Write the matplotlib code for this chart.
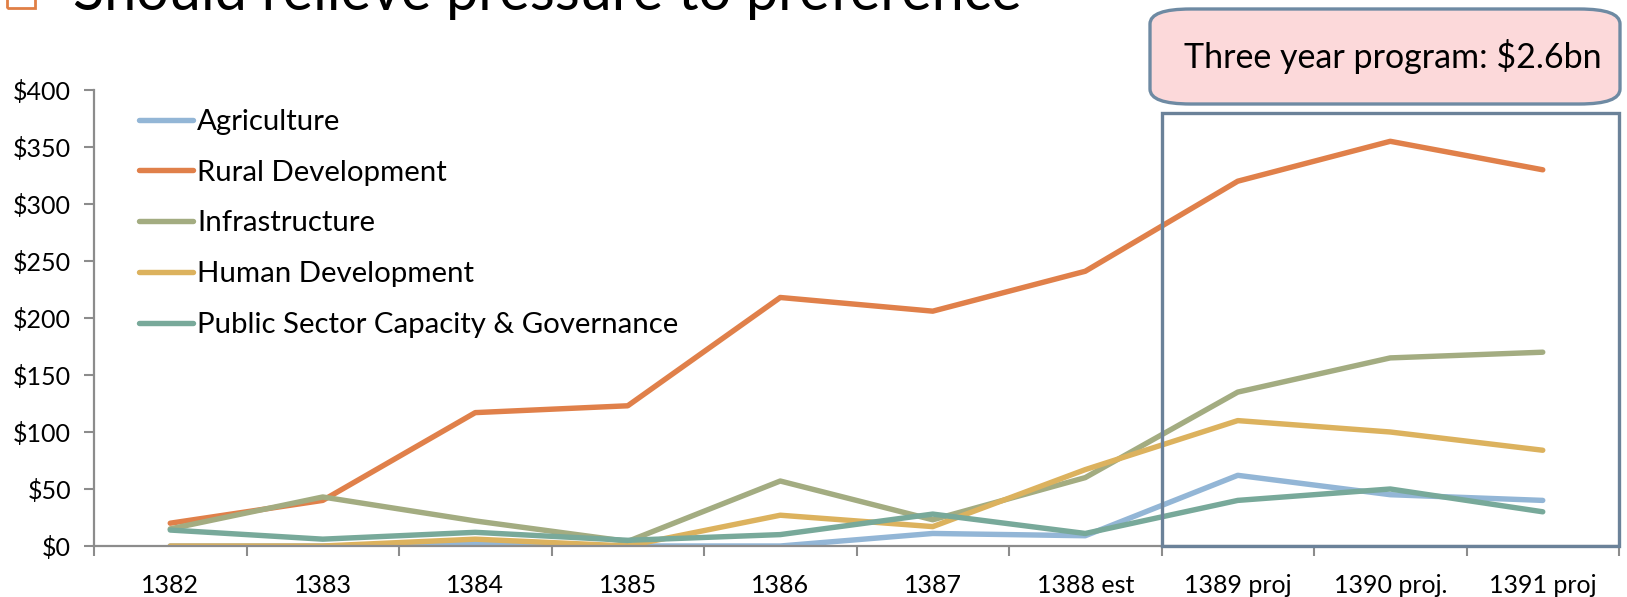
import matplotlib
matplotlib.use("Agg")
import matplotlib.pyplot as plt
from matplotlib.patches import Rectangle, FancyBboxPatch

plt.rcParams['font.family'] = ['Lato', 'DejaVu Sans']

years = ['1382', '1383', '1384', '1385', '1386', '1387', '1388 est',
         '1389 proj', '1390 proj.', '1391 proj']

agriculture = [0, 0, 2, 0, 0, 11, 9, 62, 45, 40]
rural_dev = [20, 40, 117, 123, 218, 206, 241, 320, 355, 330]
infrastructure = [15, 43, 22, 4, 57, 23, 60, 135, 165, 170]
human_dev = [0, 0, 6, 0, 27, 17, 67, 110, 100, 84]
public_sector = [14, 6, 12, 5, 10, 28, 11, 40, 50, 30]

series = [
    ('Agriculture', agriculture, '#93b6d6'),
    ('Rural Development', rural_dev, '#e0804a'),
    ('Infrastructure', infrastructure, '#a3ac81'),
    ('Human Development', human_dev, '#dcb25e'),
    ('Public Sector Capacity & Governance', public_sector, '#78a99a'),
]

W, H = 1627, 597
fig = plt.figure(figsize=(W / 100, H / 100), dpi=100)
ax = fig.add_axes([94 / W, 1 - 546 / H, 1525 / W, 456 / H])

x = list(range(len(years)))
for name, vals, col in series:
    ax.plot(x, vals, color=col, lw=3.9, label=name,
            solid_capstyle='round', solid_joinstyle='round')

ax.set_xlim(-0.5, len(years) - 0.5)
ax.set_ylim(0, 400)
ax.set_yticks(range(0, 401, 50))
ax.set_yticklabels(['$%d' % v for v in range(0, 401, 50)], fontsize=18)

# ticks sit between categories, labels at the centres
ax.set_xticks([i - 0.5 for i in range(len(years) + 1)])
ax.set_xticklabels([])
ax.set_xticks(x, minor=True)
ax.set_xticklabels(years, minor=True, fontsize=18)
ax.tick_params(axis='x', which='minor', length=0, pad=20)
ax.tick_params(axis='x', which='major', length=7, width=1.5, color='#8c8c8c')
ax.tick_params(axis='y', length=7, width=1.5, color='#8c8c8c', pad=9.5)

for s in ['top', 'right']:
    ax.spines[s].set_visible(False)
for s in ['left', 'bottom']:
    ax.spines[s].set_color('#8c8c8c')
    ax.spines[s].set_linewidth(1.6)

# box around the three projected years
ax.add_patch(Rectangle((6.5, 0), 3, 380, fill=False, edgecolor='#6b8299',
                       lw=2.4, clip_on=False, zorder=5))

leg = ax.legend(loc='upper left', bbox_to_anchor=(139 / W, 1 - 109 / H),
                bbox_transform=fig.transFigure, frameon=False, fontsize=21.2,
                handlelength=1.85, handletextpad=0.12, labelspacing=0.84,
                borderpad=0, borderaxespad=0)

# callout box
fig.patches.append(FancyBboxPatch((1150 / W, 1 - 104 / H), 470 / W, 95 / H,
                                  boxstyle='round,pad=0,rounding_size=0.025',
                                  transform=fig.transFigure, facecolor='#fcd9da',
                                  edgecolor='#6e8aa3', lw=2.4))
fig.text(1393 / W, 1 - 57 / H, 'Three year program: $2.6bn', fontsize=24.5,
         ha='center', va='center')

# slide title, cut off at the top
fig.patches.append(Rectangle((7 / W, 1 - 8 / H), 28 / W, 40 / H,
                             transform=fig.transFigure, fill=False,
                             edgecolor='#e07f45', lw=2))
fig.text(73 / W, 1 - 10 / H, 'Should relieve pressure to preference',
         fontsize=41.5, ha='left', va='baseline')

fig.savefig('out.png', dpi=100)
